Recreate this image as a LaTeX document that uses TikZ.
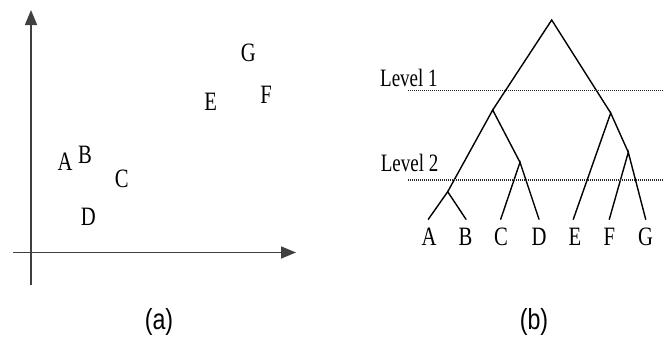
\documentclass[tikz,border=0pt]{standalone}
\usepackage{fontspec}
\setmainfont{Liberation Serif}
\newfontfamily\capfont{Liberation Sans}
\usetikzlibrary{arrows.meta}
\tikzset{
  lett/.style={font=\fontsize{26.5}{26.5}\selectfont, xscale=0.78, inner sep=0pt, anchor=base},
  lvl/.style={font=\fontsize{25}{25}\selectfont, xscale=0.76, inner sep=0pt, anchor=base west},
  captxt/.style={font=\capfont\fontsize{29}{29}\selectfont, xscale=0.8, inner sep=0pt},
  axis/.style={line width=1.6pt, draw=black!75, -{Triangle[length=15pt,width=12pt]}},
  branch/.style={line width=1.4pt, line cap=round},
  cutline/.style={line width=1.5pt, draw=black!85, dash pattern=on 1.2pt off 0.8pt}
}
\begin{document}
\begin{tikzpicture}[x=1pt,y=-1pt]
\useasboundingbox (0,0) rectangle (667,340);
% panel (a)
\coordinate (oy) at (31,285);
\coordinate (ty) at (31,10);
\coordinate (ox) at (13,252.5);
\coordinate (tx) at (296,252.5);
\draw[axis] (oy) -- (ty);
\draw[axis] (ox) -- (tx);
\node[lett] (pa) at (65,170.7) {A};
\node[lett] (pb) at (85,163.3) {B};
\node[lett] (pc) at (121.7,187) {C};
\node[lett] (pd) at (88.3,225) {D};
\node[lett] (pe) at (210.7,110) {E};
\node[lett] (pf) at (266,103) {F};
\node[lett] (pg) at (248.3,61) {G};
\node[captxt] (capa) at (159,322) {(a)};
% panel (b)
\coordinate (root) at (551.7,20);
\coordinate (l1) at (492.7,110);
\coordinate (r1) at (610.7,113);
\coordinate (ab) at (447.7,191.7);
\coordinate (cd) at (520,162.3);
\coordinate (fg) at (628.3,152.3);
\coordinate (la) at (428.3,219.3);
\coordinate (lb) at (466,219.3);
\coordinate (lc) at (500.7,219.3);
\coordinate (ld) at (539,219.3);
\coordinate (le) at (573.3,219.3);
\coordinate (lf) at (609.3,219.3);
\coordinate (lg) at (645.7,219.3);
\draw[branch] (l1) -- (root) -- (r1);
\draw[branch] (ab) -- (l1) -- (cd);
\draw[branch] (le) -- (r1) -- (fg);
\draw[branch] (la) -- (ab) -- (lb);
\draw[branch] (lc) -- (cd) -- (ld);
\draw[branch] (lf) -- (fg) -- (lg);
\node[lett] (ta) at (429,245) {A};
\node[lett] (tb) at (465.5,245) {B};
\node[lett] (tc) at (501,245) {C};
\node[lett] (td) at (539,245) {D};
\node[lett] (te) at (575,245) {E};
\node[lett] (tf) at (609.3,245) {F};
\node[lett] (tg) at (645.7,245) {G};
\node[lvl] (lv1) at (380,86.7) {Level 1};
\node[lvl] (lv2) at (380.7,171.7) {Level 2};
\coordinate (c1a) at (408,90.7);
\coordinate (c1b) at (663,90.7);
\coordinate (c2a) at (408,180);
\coordinate (c2b) at (663,180);
\draw[cutline] (c1a) -- (c1b);
\draw[cutline] (c2a) -- (c2b);
\node[captxt] (capb) at (534,322) {(b)};
\end{tikzpicture}
\end{document}
